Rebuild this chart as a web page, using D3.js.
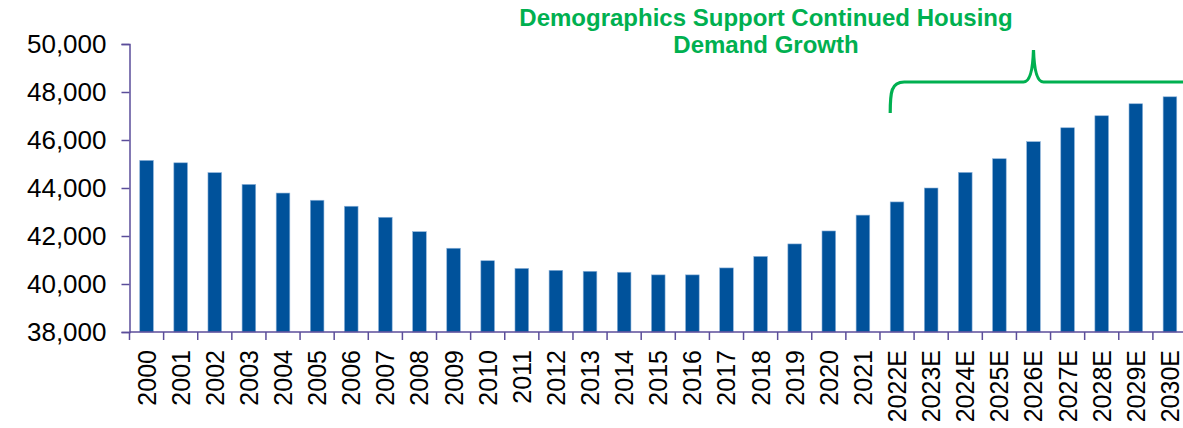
<!DOCTYPE html>
<html><head><meta charset="utf-8">
<script src="https://cdn.jsdelivr.net/npm/d3@7"></script>
<style>
html,body{margin:0;padding:0;background:#fff;}
svg{display:block;font-family:"Liberation Sans",Arial,sans-serif;}
</style></head>
<body><svg id="c" width="1183" height="428"></svg>
<script>
const categories = ["2000","2001","2002","2003","2004","2005","2006","2007","2008","2009","2010","2011","2012","2013","2014","2015","2016","2017","2018","2019","2020","2021","2022E","2023E","2024E","2025E","2026E","2027E","2028E","2029E","2030E"];
const values = [45150,45050,44640,44150,43790,43490,43240,42780,42180,41490,40970,40650,40570,40530,40490,40380,40380,40670,41150,41670,42210,42870,43420,44000,44650,45220,45930,46510,47010,47510,47800];
const yTicks = [38000,40000,42000,44000,46000,48000,50000];
const titleLines = ["Demographics Support Continued Housing","Demand Growth"];
const bracketFrom = "2022E", bracketPeak = "2026E";

const svg = d3.select("#c");
const axisColor = "#5B4D9A", barColor = "#00529B", green = "#00B050";
const x = d3.scaleBand().domain(categories).range([129.5, 1187]).paddingInner(0.6).paddingOuter(0.3);
const y = d3.scaleLinear().domain([38000, 50000]).range([332, 44]);

// bars
svg.append("g").selectAll("rect").data(values).join("rect")
  .attr("x", (d,i)=>x(categories[i]))
  .attr("y", d=>y(d))
  .attr("width", x.bandwidth())
  .attr("height", d=>y(38000)-y(d))
  .attr("fill", barColor)
  .attr("stroke", "#8DB3DA").attr("stroke-width", 0.6);

// y axis
const ya = svg.append("g").attr("transform","translate(129.5,0)")
  .call(d3.axisLeft(y).tickValues(yTicks).tickSize(8).tickPadding(15).tickFormat(d3.format(",")));
ya.select(".domain").attr("stroke", axisColor).attr("stroke-width",1.5);
ya.selectAll(".tick line").attr("stroke", axisColor).attr("stroke-width",1.5);
ya.selectAll(".tick text").attr("font-size", 26).attr("fill","#000").attr("font-family","Liberation Sans, Arial, sans-serif");

// x axis: ticks at band boundaries
const step = x.step();
const x0 = x.range()[0];
const xa = svg.append("g").attr("transform","translate(0,332)");
xa.append("line").attr("x1", x0).attr("x2", 1183).attr("y1",0).attr("y2",0)
  .attr("stroke", axisColor).attr("stroke-width",1.5);
xa.selectAll("line.t").data(d3.range(categories.length+1)).join("line").attr("class","t")
  .attr("x1", i=>x0 + i*step).attr("x2", i=>x0 + i*step)
  .attr("y1",0).attr("y2",8).attr("stroke", axisColor).attr("stroke-width",1.5);
xa.selectAll("text").data(categories).join("text")
  .attr("transform", d=>`translate(${x(d)+x.bandwidth()/2+9},18) rotate(-90)`)
  .attr("text-anchor","end")
  .attr("font-size", 25)
  .attr("fill","#000")
  .text(d=>d);

// title
svg.append("g").selectAll("text").data(titleLines).join("text")
  .attr("x", 766).attr("y", (d,i)=>26 + i*27)
  .attr("text-anchor","middle").attr("font-weight","bold").attr("font-size",24)
  .attr("fill", green).text(d=>d);

// bracket
const bl = x(bracketFrom);
const pk = x(bracketPeak) + x.bandwidth()/2;
const hy = 82;
const p = d3.path();
p.moveTo(bl, 113);
p.bezierCurveTo(bl, 92, bl+1, hy, bl+14, hy);
p.lineTo(pk-10, hy);
p.quadraticCurveTo(pk-1, hy, pk, 50);
p.quadraticCurveTo(pk+1, hy, pk+10, hy);
p.lineTo(1190, hy);
svg.append("path").attr("d", p.toString()).attr("fill","none")
  .attr("stroke", green).attr("stroke-width",3.2);
</script></body></html>
